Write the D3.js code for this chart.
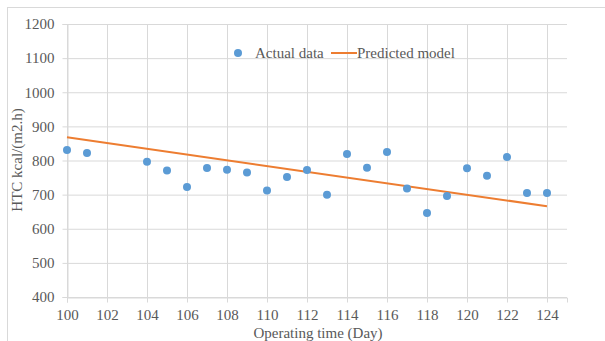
<!DOCTYPE html>
<html><head><meta charset="utf-8">
<script src="https://cdn.jsdelivr.net/npm/d3@7"></script>
<style>body{margin:0;background:#fff;} svg{display:block;} text{font-family:'Liberation Serif','DejaVu Serif',serif;}</style>
</head><body>
<svg id="c" width="605" height="341"></svg>
<script>
const days = [100,101,104,105,106,107,108,109,110,111,112,113,114,115,116,117,118,119,120,121,122,123,124];
const htc  = [831,822,796,771,722,778,773,765,712,752,772,700,819,779,825,718,646,696,777,755,810,705,705];
const modelDays = [100,124];
const modelHtc = [868,666];
const xTicks = [100,102,104,106,108,110,112,114,116,118,120,122,124];
const yTicks = [400,500,600,700,800,900,1000,1100,1200];

const svg = d3.select('#c');
const font = "'Liberation Serif','DejaVu Serif',serif";
svg.append('rect').attr('x',7.5).attr('y',7.5).attr('width',620).attr('height',360)
  .attr('fill','#fff').attr('stroke','#d9d9d9');

const x = d3.scaleLinear().domain([100,125]).range([67,567]);
const y = d3.scaleLinear().domain([400,1200]).range([297,24]);

// grid
svg.append('g').selectAll('line').data(yTicks).join('line')
  .attr('x1',67).attr('x2',567).attr('y1',d=>y(d)+0.5).attr('y2',d=>y(d)+0.5)
  .attr('stroke','#d9d9d9');
svg.append('g').selectAll('line').data(xTicks).join('line')
  .attr('x1',d=>x(d)+0.5).attr('x2',d=>x(d)+0.5).attr('y1',24).attr('y2',297)
  .attr('stroke','#d9d9d9');

const ya = svg.append('g').attr('transform','translate(67.5,0)')
  .call(d3.axisLeft(y).tickValues(yTicks).tickFormat(d3.format('d')).tickSize(5).tickPadding(8));
const xa = svg.append('g').attr('transform','translate(0,297.5)')
  .call(d3.axisBottom(x).tickValues(xTicks).tickFormat(d3.format('d')).tickSize(5).tickPadding(7));
[ya,xa].forEach(a=>{
  a.attr('font-family',font).attr('font-size',15);
  a.selectAll('path,line').attr('stroke','#d9d9d9');
  a.selectAll('text').attr('fill','#595959');
});

// model line
svg.append('path').datum(modelDays.map((d,i)=>[d,modelHtc[i]]))
  .attr('d',d3.line().x(d=>x(d[0])).y(d=>y(d[1])))
  .attr('stroke','#ed7d31').attr('stroke-width',2).attr('fill','none');

// points
svg.append('g').selectAll('circle').data(days).join('circle')
  .attr('cx',d=>x(d)).attr('cy',(d,i)=>y(htc[i])).attr('r',4)
  .attr('fill','#5b9bd5');

// legend
const lg = svg.append('g');
lg.append('circle').attr('cx',238).attr('cy',53).attr('r',4).attr('fill','#5b9bd5');
lg.append('text').attr('x',255).attr('y',58).text('Actual data');
lg.append('line').attr('x1',331).attr('x2',357).attr('y1',53).attr('y2',53)
  .attr('stroke','#ed7d31').attr('stroke-width',2);
lg.append('text').attr('x',357).attr('y',58).text('Predicted model');
lg.selectAll('text').attr('fill','#595959').attr('font-size',15);

// axis titles
svg.append('text').attr('x',318).attr('y',338).attr('text-anchor','middle')
  .attr('fill','#595959').attr('font-size',15)
  .text('Operating time (Day)');
svg.append('text').attr('transform','translate(22,160) rotate(-90)').attr('text-anchor','middle')
  .attr('fill','#595959').attr('font-size',15)
  .text('HTC  kcal/(m2.h)');
</script>
</body></html>
